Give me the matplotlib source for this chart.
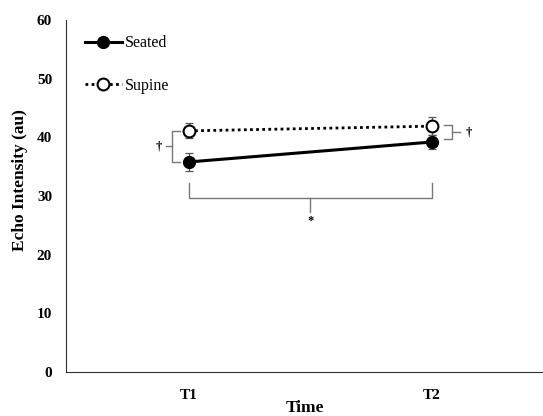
import matplotlib
matplotlib.use("Agg")
import matplotlib.pyplot as plt

times = ["T1", "T2"]
seated = [35.8, 39.2]
seated_err = [1.5, 1.2]
supine = [41.1, 41.9]
supine_err = [1.3, 1.5]

plt.rcParams["font.family"] = ["Liberation Serif", "DejaVu Serif"]
plt.rcParams["font.weight"] = "bold"

fig = plt.figure(figsize=(5.43, 4.16), dpi=100)
ax = fig.add_axes([0.1215, 0.1058, 0.8785, 0.8462])

x = [1, 2]
ax.errorbar(x, supine, yerr=supine_err, fmt="none", ecolor="#555555",
            elinewidth=0.9, capsize=3, capthick=0.9, zorder=2)
ax.errorbar(x, seated, yerr=seated_err, fmt="none", ecolor="#555555",
            elinewidth=0.9, capsize=3, capthick=0.9, zorder=2)
ax.plot(x, seated, color="black", lw=2.2, marker="o", markersize=8.5,
        markerfacecolor="black", markeredgecolor="black", label="Seated", zorder=3)
ax.plot(x, supine, color="black", lw=2.0, ls=(0, (1, 1.2)), marker="o", markersize=8.5,
        markerfacecolor="white", markeredgecolor="black", markeredgewidth=1.5,
        label="Supine", zorder=3)

# significance brackets
gray = "#777777"
ax.plot([0.963, 0.93, 0.93, 0.963], [supine[0], supine[0], seated[0], seated[0]],
        color=gray, lw=1)
ax.plot([0.905, 0.93], [38.5, 38.5], color=gray, lw=1)
ax.text(0.875, 38.5, "†", ha="center", va="center", fontsize=9)

ax.plot([2.05, 2.082, 2.082, 2.05], [42.1, 42.1, 39.7, 39.7], color=gray, lw=1)
ax.plot([2.082, 2.115], [40.9, 40.9], color=gray, lw=1)
ax.text(2.15, 40.9, "†", ha="center", va="center", fontsize=9)

ax.plot([1, 1, 2, 2], [32.2, 29.7, 29.7, 32.2], color=gray, lw=1)
ax.plot([1.5, 1.5], [29.7, 27.3], color=gray, lw=1)
ax.text(1.5, 25.7, "*", ha="center", va="center", fontsize=9)

ax.set_xlim(0.494, 2.457)
ax.set_ylim(0, 60)
ax.set_xticks(x)
ax.set_xticklabels(times)
ax.set_yticks(range(0, 61, 10))
ax.tick_params(axis="both", length=0, labelsize=11)
ax.tick_params(axis="x", pad=12)
ax.tick_params(axis="y", pad=10)
for lab in ax.get_xticklabels() + ax.get_yticklabels():
    lab.set_fontweight("bold")
ax.spines["top"].set_visible(False)
ax.spines["right"].set_visible(False)
ax.spines["left"].set_color("#333333")
ax.spines["bottom"].set_color("#333333")

ax.set_xlabel("Time", fontsize=12.5, fontweight="bold", labelpad=-1)
ax.set_ylabel("Echo Intensity (au)", fontsize=12.5, fontweight="bold")
ax.yaxis.set_label_coords(-0.08, 0.545)

leg = ax.legend(loc="upper left", bbox_to_anchor=(0.01, 0.997), frameon=False,
                handlelength=2.3, handletextpad=0.2, labelspacing=1.65,
                prop={"size": 11.5, "weight": "normal"})

fig.savefig("out.png", dpi=100)
